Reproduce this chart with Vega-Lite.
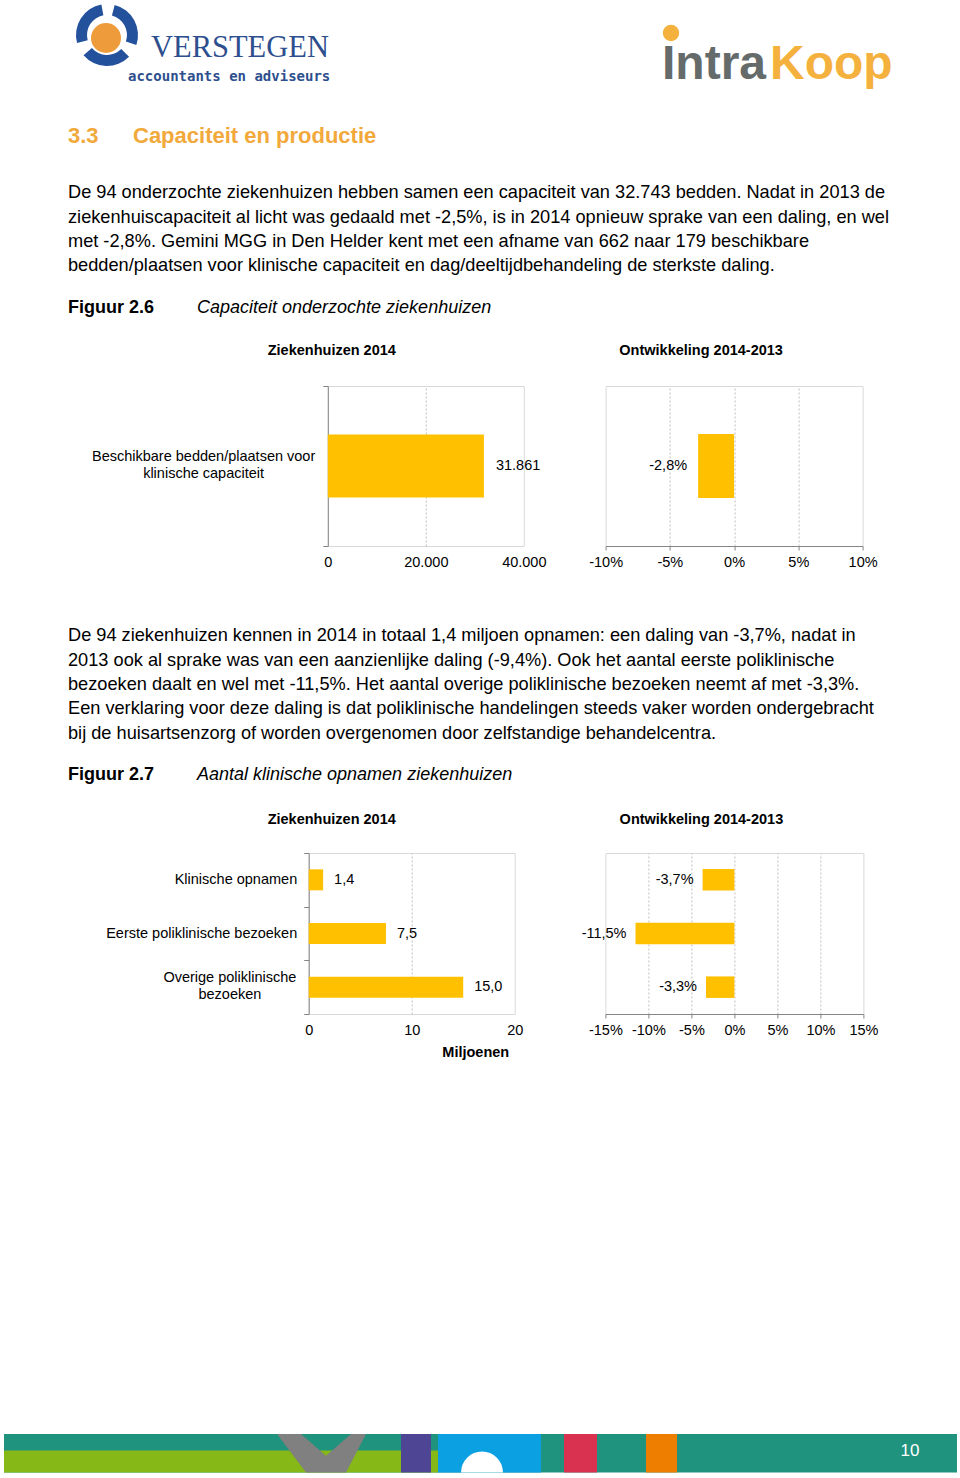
{
 "$schema": "https://vega.github.io/schema/vega-lite/v6.json",
 "background": "white",
 "padding": 0,
 "autosize": {"type": "pad"},
 "spacing": 0,
 "bounds": "flush",
 "config": {
   "font": "Liberation Sans",
   "view": {"stroke": null},
   "axis": {"labelFont": "Liberation Sans", "labelFontSize": 14.5, "labelColor": "#000000", "titleFont": "Liberation Sans", "titleColor": "#000000", "titleFontSize": 14.5, "labelFlush": false, "labelOverlap": false, "labelLimit": 0},
   "title": {"font": "Liberation Sans", "fontSize": 14.5, "fontWeight": "bold", "color": "#000000"},
   "text": {"font": "Liberation Sans", "color": "#000000"},
   "locale": {"number": {"decimal": ",", "thousands": ".", "grouping": [3], "currency": ["€ ", ""], "minus": "-"}}
 },
 "vconcat": [
  {
   "width": 960, "height": 110,
   "data": {"values": [{"logo": "kop"}]},
   "layer": [
    {"mark": {"type": "point", "shape": "circle", "filled": true, "color": "#EE9B3B", "opacity": 1, "size": 900, "x": 105, "y": 37}},
    {"mark": {"type": "arc", "x": 106, "y": 34, "innerRadius": 20, "outerRadius": 31, "theta": 0.25, "theta2": 1.9, "color": "#23519B"}},
    {"mark": {"type": "arc", "x": 106, "y": 34, "innerRadius": 20, "outerRadius": 31, "theta": 2.35, "theta2": 4.0, "color": "#23519B"}},
    {"mark": {"type": "arc", "x": 106, "y": 34, "innerRadius": 20, "outerRadius": 31, "theta": 4.45, "theta2": 6.1, "color": "#23519B"}},
    {"mark": {"type": "text", "text": "VERSTEGEN", "x": 150, "y": 56, "align": "left", "baseline": "alphabetic", "font": "Liberation Serif", "fontSize": 30.5, "color": "#2E4F8E"}},
    {"mark": {"type": "rule", "x": 150, "x2": 327, "y": 63, "y2": 63, "color": "#E9A44A", "strokeWidth": 1.5}, "encoding": {}},
    {"mark": {"type": "text", "text": "accountants en adviseurs", "x": 127, "y": 80, "align": "left", "baseline": "alphabetic", "font": "DejaVu Sans Mono", "fontWeight": "bold", "fontSize": 14, "color": "#2E4F8E"}},
    {"mark": {"type": "point", "shape": "circle", "filled": true, "color": "#F5B13D", "opacity": 1, "size": 270, "x": 670, "y": 32}},
    {"mark": {"type": "text", "text": "Intra", "x": 661, "y": 78, "align": "left", "baseline": "alphabetic", "fontSize": 48, "fontWeight": "bold", "color": "#646B6A"}},
    {"mark": {"type": "text", "text": "Koop", "x": 769, "y": 78, "align": "left", "baseline": "alphabetic", "fontSize": 48, "fontWeight": "bold", "color": "#F5B13D"}}
   ]
  },
  {
   "width": 960, "height": 70,
   "data": {"values": [{"nummer": "3.3", "titel": "Capaciteit en productie"}]},
   "layer": [
    {"mark": {"type": "text", "x": 67, "y": 25, "align": "left", "baseline": "middle", "fontSize": 22, "fontWeight": "bold", "color": "#F2A93B"}, "encoding": {"text": {"field": "nummer", "type": "nominal"}}},
    {"mark": {"type": "text", "x": 132, "y": 25, "align": "left", "baseline": "middle", "fontSize": 22, "fontWeight": "bold", "color": "#F2A93B"}, "encoding": {"text": {"field": "titel", "type": "nominal"}}}
   ]
  },
  {
   "width": 960, "height": 97.6,
   "data": {"values": [
     {"regel": 1, "tekst": "De 94 onderzochte ziekenhuizen hebben samen een capaciteit van 32.743 bedden. Nadat in 2013 de"},
     {"regel": 2, "tekst": "ziekenhuiscapaciteit al licht was gedaald met -2,5%, is in 2014 opnieuw sprake van een daling, en wel"},
     {"regel": 3, "tekst": "met -2,8%. Gemini MGG in Den Helder kent met een afname van 662 naar 179 beschikbare"},
     {"regel": 4, "tekst": "bedden/plaatsen voor klinische capaciteit en dag/deeltijdbehandeling de sterkste daling."}
   ]},
   "mark": {"type": "text", "x": 67, "align": "left", "baseline": "middle", "fontSize": 18.2},
   "encoding": {"y": {"field": "regel", "type": "ordinal", "axis": null}, "text": {"field": "tekst", "type": "nominal"}}
  },
  {
   "width": 960, "height": 106.4,
   "data": {"values": [{"figuur": "Figuur 2.6", "titel": "Capaciteit onderzochte ziekenhuizen"}]},
   "layer": [
    {"mark": {"type": "text", "x": 67, "y": 29.4, "align": "left", "baseline": "middle", "fontSize": 18, "fontWeight": "bold"}, "encoding": {"text": {"field": "figuur", "type": "nominal"}}},
    {"mark": {"type": "text", "x": 196, "y": 29.4, "align": "left", "baseline": "middle", "fontSize": 18, "fontStyle": "italic"}, "encoding": {"text": {"field": "titel", "type": "nominal"}}}
   ]
  },
  {
   "spacing": 81.8,
   "bounds": "flush",
   "hconcat": [
    {"width": 244.9, "height": 160, "data": {"values": []}, "mark": "text"},
    {
     "width": 196, "height": 160,
     "view": {"stroke": "#D9D9D9"},
     "title": {"text": "Ziekenhuizen 2014", "anchor": "middle", "frame": "group", "dx": -94, "offset": 9, "baseline": "alphabetic"},
     "data": {"values": [{"categorie": "Beschikbare bedden/plaatsen voor klinische capaciteit", "aantal": 31861}]},
     "encoding": {
      "y": {"field": "categorie", "type": "nominal", "scale": {"paddingInner": 0, "paddingOuter": 0},
            "axis": {"title": null, "domainColor": "#868686", "tickColor": "#868686", "tickSize": 5, "tickBand": "extent", "labelAlign": "center", "labelPadding": 119.7, "labelLineHeight": 17, "labelBaseline": "middle", "labelOffset": -10,
                     "labelExpr": "datum.label == 'Beschikbare bedden/plaatsen voor klinische capaciteit' ? ['Beschikbare bedden/plaatsen voor', 'klinische capaciteit'] : datum.label"}},
      "x": {"field": "aantal", "type": "quantitative", "scale": {"domain": [0, 40000], "nice": false},
            "axis": {"title": null, "values": [0, 20000, 40000], "format": ",d", "domain": false, "ticks": false, "labelPadding": 9,
                     "grid": true, "gridDash": [2, 2], "gridColor": "#BFBFBF", "gridOpacity": {"condition": {"test": "datum.value == 20000", "value": 1}, "value": 0}}}
     },
     "layer": [
      {"mark": {"type": "bar", "color": "#FFC000", "size": 63}},
      {"mark": {"type": "text", "align": "left", "dx": 12, "fontSize": 14.5}, "encoding": {"text": {"field": "aantal", "type": "quantitative", "format": ",d"}}}
     ]
    },
    {
     "width": 257, "height": 160,
     "view": {"stroke": "#D9D9D9"},
     "title": {"text": "Ontwikkeling 2014-2013", "anchor": "middle", "frame": "group", "dx": -33, "offset": 17, "baseline": "alphabetic"},
     "data": {"values": [{"categorie": "Beschikbare bedden/plaatsen voor klinische capaciteit", "ontwikkeling": -0.028}]},
     "encoding": {
      "y": {"field": "categorie", "type": "nominal", "scale": {"paddingInner": 0, "paddingOuter": 0}, "axis": null},
      "x": {"field": "ontwikkeling", "type": "quantitative", "scale": {"domain": [-0.1, 0.1], "nice": false},
            "axis": {"title": null, "values": [-0.1, -0.05, 0, 0.05, 0.1], "format": ".0%", "domainColor": "#868686", "tickColor": "#868686", "tickSize": 4, "labelPadding": 5,
                     "grid": true, "gridDash": [2, 2], "gridColor": "#BFBFBF", "gridOpacity": {"condition": {"test": "abs(datum.value) > 0.09", "value": 0}, "value": 1}}}
     },
     "layer": [
      {"mark": {"type": "bar", "color": "#FFC000", "size": 64}},
      {"mark": {"type": "text", "align": "right", "dx": -11, "fontSize": 14.5}, "encoding": {"text": {"field": "ontwikkeling", "type": "quantitative", "format": ".1%"}}}
     ]
    }
   ]
  },
  {"width": 960, "height": 237.8, "data": {"values": []}, "mark": "text"},
  {
   "width": 960, "height": 122,
   "data": {"values": [
     {"regel": 1, "tekst": "De 94 ziekenhuizen kennen in 2014 in totaal 1,4 miljoen opnamen: een daling van -3,7%, nadat in"},
     {"regel": 2, "tekst": "2013 ook al sprake was van een aanzienlijke daling (-9,4%). Ook het aantal eerste poliklinische"},
     {"regel": 3, "tekst": "bezoeken daalt en wel met -11,5%. Het aantal overige poliklinische bezoeken neemt af met -3,3%."},
     {"regel": 4, "tekst": "Een verklaring voor deze daling is dat poliklinische handelingen steeds vaker worden ondergebracht"},
     {"regel": 5, "tekst": "bij de huisartsenzorg of worden overgenomen door zelfstandige behandelcentra."}
   ]},
   "mark": {"type": "text", "x": 67, "align": "left", "baseline": "middle", "fontSize": 18.2},
   "encoding": {"y": {"field": "regel", "type": "ordinal", "axis": null}, "text": {"field": "tekst", "type": "nominal"}}
  },
  {
   "width": 960, "height": 106.2,
   "data": {"values": [{"figuur": "Figuur 2.7", "titel": "Aantal klinische opnamen ziekenhuizen"}]},
   "layer": [
    {"mark": {"type": "text", "x": 67, "y": 29.2, "align": "left", "baseline": "middle", "fontSize": 18, "fontWeight": "bold"}, "encoding": {"text": {"field": "figuur", "type": "nominal"}}},
    {"mark": {"type": "text", "x": 196, "y": 29.2, "align": "left", "baseline": "middle", "fontSize": 18, "fontStyle": "italic"}, "encoding": {"text": {"field": "titel", "type": "nominal"}}}
   ]
  },
  {
   "spacing": 90.7,
   "bounds": "flush",
   "hconcat": [
    {"width": 216.6, "height": 161, "data": {"values": []}, "mark": "text"},
    {
     "width": 206, "height": 161,
     "view": {"stroke": "#D9D9D9"},
     "title": {"text": "Ziekenhuizen 2014", "anchor": "middle", "frame": "group", "dx": -80, "offset": 7, "baseline": "alphabetic"},
     "data": {"values": [
       {"categorie": "Klinische opnamen", "miljoenen": 1.4},
       {"categorie": "Eerste poliklinische bezoeken", "miljoenen": 7.5},
       {"categorie": "Overige poliklinische bezoeken", "miljoenen": 15.0}
     ]},
     "encoding": {
      "y": {"field": "categorie", "type": "nominal", "sort": null, "scale": {"paddingInner": 0, "paddingOuter": 0},
            "axis": {"title": null, "domainColor": "#868686", "tickColor": "#868686", "tickSize": 5, "tickBand": "extent", "labelLineHeight": 17, "labelBaseline": "middle",
                     "labelAlign": {"condition": {"test": "datum.value == 'Overige poliklinische bezoeken'", "value": "center"}, "value": "right"},
                     "labelPadding": {"condition": {"test": "datum.value == 'Overige poliklinische bezoeken'", "value": 74.3}, "value": 7},
                     "labelOffset": {"condition": {"test": "datum.value == 'Overige poliklinische bezoeken'", "value": -10}, "value": 0},
                     "labelExpr": "datum.label == 'Overige poliklinische bezoeken' ? ['Overige poliklinische', 'bezoeken'] : datum.label"}},
      "x": {"field": "miljoenen", "type": "quantitative", "scale": {"domain": [0, 20], "nice": false},
            "axis": {"title": "Miljoenen", "titleFontWeight": "bold", "titleAnchor": "end", "titleAlign": "right", "titleX": 200, "titlePadding": 9, "values": [0, 10, 20], "format": "d", "domain": false, "ticks": false, "labelPadding": 9,
                     "grid": true, "gridDash": [2, 2], "gridColor": "#BFBFBF", "gridOpacity": {"condition": {"test": "datum.value == 10", "value": 1}, "value": 0}}}
     },
     "layer": [
      {"mark": {"type": "bar", "color": "#FFC000", "size": 21}},
      {"mark": {"type": "text", "align": "left", "dx": 11, "fontSize": 14.5}, "encoding": {"text": {"field": "miljoenen", "type": "quantitative", "format": ".1f"}}}
     ]
    },
    {
     "width": 258, "height": 161,
     "view": {"stroke": "#D9D9D9"},
     "title": {"text": "Ontwikkeling 2014-2013", "anchor": "middle", "frame": "group", "dx": -33, "offset": 15, "baseline": "alphabetic"},
     "data": {"values": [
       {"categorie": "Klinische opnamen", "ontwikkeling": -0.037},
       {"categorie": "Eerste poliklinische bezoeken", "ontwikkeling": -0.115},
       {"categorie": "Overige poliklinische bezoeken", "ontwikkeling": -0.033}
     ]},
     "encoding": {
      "y": {"field": "categorie", "type": "nominal", "sort": null, "scale": {"paddingInner": 0, "paddingOuter": 0}, "axis": null},
      "x": {"field": "ontwikkeling", "type": "quantitative", "scale": {"domain": [-0.15, 0.15], "nice": false},
            "axis": {"title": null, "values": [-0.15, -0.1, -0.05, 0, 0.05, 0.1, 0.15], "format": ".0%", "domainColor": "#868686", "tickColor": "#868686", "tickSize": 4, "labelPadding": 5,
                     "grid": true, "gridDash": [2, 2], "gridColor": "#BFBFBF", "gridOpacity": {"condition": {"test": "abs(datum.value) > 0.14", "value": 0}, "value": 1}}}
     },
     "layer": [
      {"mark": {"type": "bar", "color": "#FFC000", "size": 21.5}},
      {"mark": {"type": "text", "align": "right", "dx": -9, "fontSize": 14.5}, "encoding": {"text": {"field": "ontwikkeling", "type": "quantitative", "format": ".1%"}}}
     ]
    }
   ]
  },
  {"width": 960, "height": 581, "data": {"values": []}, "mark": "text"},
  {
   "width": 960, "height": 40,
   "data": {"values": [{"voet": "balk"}]},
   "layer": [
    {"mark": {"type": "rect", "x": 3, "x2": 956, "y": 0, "y2": 38.5, "color": "#20937E"}},
    {"mark": {"type": "rect", "x": 3, "x2": 437, "y": 16.5, "y2": 38.5, "color": "#86B817"}},
    {"mark": {"type": "point", "filled": true, "opacity": 1, "color": "#808080", "size": 7921, "x": 320.5, "y": 19.25, "shape": "M-1,-0.433L-0.461,-0.433L0.101,0.056L0.663,-0.433L1,-0.433L0.551,0.433L-0.348,0.433Z"}},
    {"mark": {"type": "rect", "x": 400, "x2": 430, "y": 0, "y2": 38.5, "color": "#4F4595"}},
    {"mark": {"type": "rect", "x": 437, "x2": 540, "y": 0, "y2": 38.5, "color": "#0AA0E2"}},
    {"mark": {"type": "arc", "x": 481, "y": 38.5, "innerRadius": 0, "outerRadius": 21, "theta": -1.5708, "theta2": 1.5708, "color": "#FFFFFF"}},
    {"mark": {"type": "rect", "x": 563, "x2": 596, "y": 0, "y2": 38.5, "color": "#D93251"}},
    {"mark": {"type": "rect", "x": 645, "x2": 676, "y": 0, "y2": 38.5, "color": "#EE7E00"}},
    {"mark": {"type": "text", "text": "10", "x": 909, "y": 17, "align": "center", "baseline": "middle", "fontSize": 17, "color": "#FFFFFF"}}
   ]
  }
 ]
}
